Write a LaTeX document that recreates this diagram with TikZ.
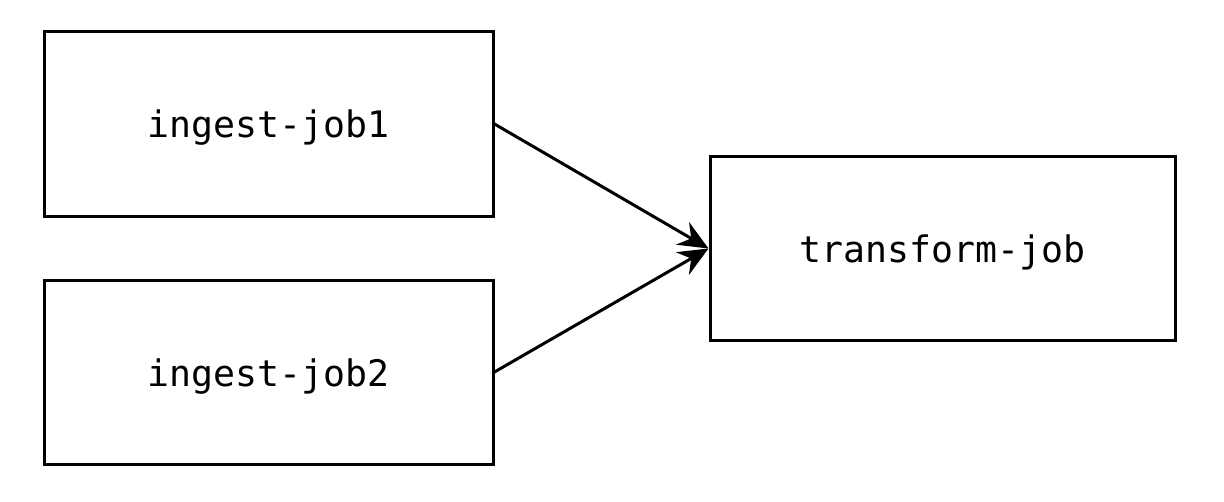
\documentclass[tikz,border=0pt]{standalone}
\usepackage{fontspec}
\setmonofont{DejaVu Sans Mono}
\usepackage{tikz}
\usetikzlibrary{arrows.meta, positioning}

\tikzset{
    jobbox/.style={draw=black, line width=1.5pt, fill=white, inner sep=0pt,
        minimum width=224.5pt, minimum height=92pt,
        text height=16pt, text depth=2pt,
        font=\fontsize{18.25pt}{22pt}\selectfont\ttfamily},
    flow/.style={line width=1.5pt, -{Stealth[length=15pt, width=13pt, inset=5pt]}}
}

\begin{document}
\begin{tikzpicture}[x=0.5pt, y=-0.5pt]
    \useasboundingbox (0, 0) rectangle (1224, 502);

    % Jobs
    \node[jobbox] (ingest1) at (268.5, 124) {ingest-job1};
    \node[jobbox] (ingest2) at (268.5, 372) {ingest-job2};
    \node[jobbox, minimum width=232.5pt] (transform) at (942.5, 248.5) {transform-job};

    % Dependencies
    \draw[flow] (ingest1.east) -- (transform.west);
    \draw[flow] (ingest2.east) -- (transform.west);
\end{tikzpicture}
\end{document}
